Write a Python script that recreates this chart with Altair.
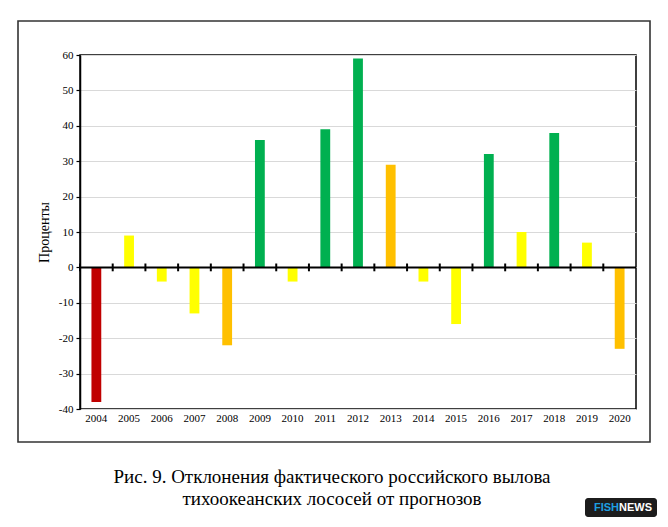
import altair as alt
import pandas as pd

years = ["2004", "2005", "2006", "2007", "2008", "2009", "2010", "2011", "2012",
         "2013", "2014", "2015", "2016", "2017", "2018", "2019", "2020"]
values = [-38, 9, -4, -13, -22, 36, -4, 39, 59, 29, -4, -16, 32, 10, 38, 7, -23]
grades = ["red", "yellow", "yellow", "yellow", "orange", "green", "yellow", "green", "green",
          "orange", "yellow", "yellow", "green", "yellow", "green", "yellow", "orange"]
grade_domain = ["red", "orange", "yellow", "green"]
grade_colors = ["#C00000", "#FFC000", "#FFFF00", "#00B050"]
y_ticks = [-40, -30, -20, -10, 0, 10, 20, 30, 40, 50, 60]
y_title = "Проценты"
caption_1 = "Рис. 9. Отклонения фактического российского вылова"
caption_2 = "тихоокеанских лососей от прогнозов"

df = pd.DataFrame({"year": years, "value": values, "grade": grades})
one = pd.DataFrame({"v": [0]})

W, H = 556, 354
serif = "Liberation Serif"
zero_from_bottom = H * 0.4

xscale = alt.Scale(paddingInner=0, paddingOuter=0)
yscale = alt.Scale(domain=[-40, 60], nice=False)
y_axis = alt.Axis(values=y_ticks, title=y_title, grid=True, gridColor="#D9D9D9",
                  gridWidth=1, domainColor="black", domainWidth=1.5,
                  tickColor="black", tickSize=4, tickWidth=1.2,
                  labelExpr="toString(datum.value)",
                  labelFont=serif, labelFontSize=11, labelColor="black",
                  labelPadding=3, titleFont=serif, titleFontSize=14,
                  titleFontWeight="normal", titleColor="black", titlePadding=7)
x_axis = alt.Axis(title=None, labelAngle=0, domain=False, orient="bottom", grid=False,
                  ticks=False, tickSize=0,
                  offset=-zero_from_bottom, labelPadding=zero_from_bottom + 3,
                  labelFont=serif, labelFontSize=11, labelColor="black")

bars = alt.Chart(df).mark_bar(width=alt.RelativeBandSize(0.3)).encode(
    x=alt.X("year:N", scale=xscale, sort=years, axis=x_axis),
    y=alt.Y("value:Q", scale=yscale, axis=y_axis),
    color=alt.Color("grade:N", scale=alt.Scale(domain=grade_domain, range=grade_colors),
                    legend=None),
)

zero_rule = alt.Chart(one).mark_rule(color="black", strokeWidth=2).encode(
    y=alt.Y("v:Q", scale=yscale, axis=y_axis)
)

# small tick marks crossing the zero line at the category boundaries
zero_ticks = alt.Chart(df).mark_rule(color="black", strokeWidth=2).encode(
    x=alt.X("year:N", scale=xscale, sort=years, bandPosition=0, axis=x_axis),
    y=alt.YDatum(-1.1, scale=yscale, axis=y_axis),
    y2=alt.Y2Datum(1.1),
)

frame = alt.Chart(one).mark_rect(fill="transparent", stroke="#333333", strokeWidth=1.6).encode(
    x=alt.value(-62), x2=alt.value(570), y=alt.value(-34), y2=alt.value(387)
)

cap1 = alt.Chart(one).mark_text(text=caption_1, font=serif, fontSize=19, color="black",
                                align="center", baseline="middle").encode(
    x=alt.value(252), y=alt.value(422)
)
cap2 = alt.Chart(one).mark_text(text=caption_2, font=serif, fontSize=19, color="black",
                                align="center", baseline="middle").encode(
    x=alt.value(252), y=alt.value(444)
)

logo_box = alt.Chart(one).mark_rect(fill="#1c1c1c", cornerRadius=3).encode(
    x=alt.value(505), x2=alt.value(577), y=alt.value(443), y2=alt.value(462)
)
logo_fish = alt.Chart(one).mark_text(text="FISH", color="#1E9FE0", font="Liberation Sans",
                                     fontWeight="bold", fontSize=11, align="right",
                                     baseline="middle").encode(
    x=alt.value(539), y=alt.value(453)
)
logo_news = alt.Chart(one).mark_text(text="NEWS", color="white", font="Liberation Sans",
                                     fontWeight="bold", fontSize=11, align="left",
                                     baseline="middle").encode(
    x=alt.value(539), y=alt.value(453)
)

chart = alt.layer(frame, bars, zero_rule, zero_ticks, cap1, cap2,
                  logo_box, logo_fish, logo_news).properties(
    width=W, height=H,
    autosize=alt.AutoSizeParams(type="none"),
    padding={"left": 72, "top": 47, "right": 24, "bottom": 110},
).configure_view(stroke="black", strokeWidth=1.5)

chart.save("out.html", embed_options={"renderer": "svg", "actions": False})
